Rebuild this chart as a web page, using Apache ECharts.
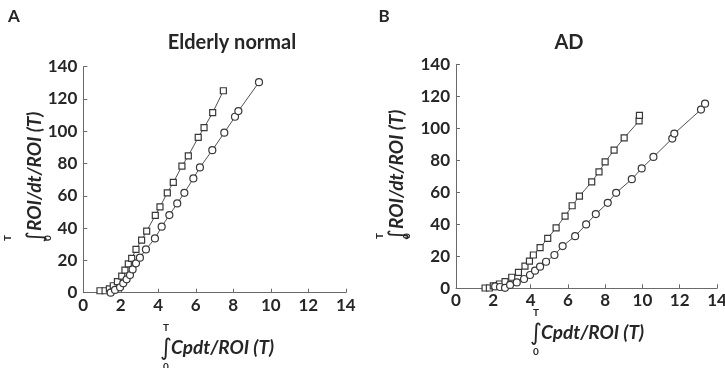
<!DOCTYPE html>
<html><head><meta charset="utf-8">
<script src="https://cdn.jsdelivr.net/npm/echarts@6/dist/echarts.min.js"></script>
<style>html,body{margin:0;padding:0;background:#fff}#c{width:725px;height:368px}</style>
</head><body><div id="c"></div>
<script>
// ---- data ----
const panelLabels = ['A', 'B'];
const panelTitles = ['Elderly normal', 'AD'];
const xTickMax = 14, xTickStep = 2;
const yTickMax = 140, yTickStep = 20;

// Panel A (Elderly normal)
const aSquareX = [0.89,1.16,1.39,1.6,1.82,2.05,2.22,2.4,2.58,2.81,3.11,3.38,3.84,4.09,4.48,4.8,5.26,5.6,6.13,6.44,6.9,7.47];
const aSquareY = [1.2,1.2,2.4,4.3,6.8,10.3,14,17.8,21.3,26.8,32.6,38.2,47.9,53.2,61.9,68.3,78.4,84.8,96.2,102.2,111.5,125.1];
const aCircleX = [1.46,1.69,1.96,2.13,2.31,2.49,2.63,2.81,3.02,3.34,3.82,4.18,4.59,5.01,5.39,5.87,6.22,6.88,7.52,8.09,8.27,9.37];
const aCircleY = [0,1.7,3.3,5.8,8.3,10.9,14.4,18.2,21.7,26.8,33.6,40.9,48.1,55.3,61.9,70.8,77.6,88.3,99.1,109,112.5,130.4];

// Panel B (AD)
const bSquareX = [1.56,1.79,2.0,2.33,2.63,2.99,3.35,3.7,3.94,4.15,4.51,4.92,5.37,5.85,6.23,6.62,7.28,7.67,8.0,8.48,9.02,9.82,9.84];
const bSquareY = [0.2,0.2,1.5,2.7,4.2,6.9,10,13.9,17,20.8,25.4,31.2,37.8,45.1,51.6,57.6,66.5,72.8,79,86.3,94,104.6,108.1];
const bCircleX = [2.1,2.36,2.63,2.9,3.26,3.65,3.97,4.24,4.51,4.83,5.28,5.72,6.39,6.98,7.5,8.14,8.59,9.43,9.96,10.59,11.6,11.71,13.14,13.36];
const bCircleY = [1.2,0.8,0.3,2.1,3.7,5.8,8.3,11,13.5,16.6,20.8,26.4,32.6,39.9,46.4,53.4,59.7,68.2,74.9,82.1,93.6,96.7,111.7,115.4];

const yAxisName = 'ROI/dt/ROI (T)';
const xAxisName = 'Cpdt/ROI (T)';

// ---- chart ----
const pair = (xs, ys) => xs.map((x, i) => [x, ys[i]]);
const FONT = 'Lato, "Open Sans", sans-serif';
const TXT = '#262626';
const AXC = '#6a6a6a';
const MK = '#383838';

const grids = [
  {left: 83.3, top: 66.7, width: 262.5, height: 226},
  {left: 456, top: 64.3, width: 261, height: 224}
];

function xAxis(gi) {
  return {
    type: 'value', gridIndex: gi, min: 0, max: xTickMax, interval: xTickStep,
    splitLine: {show: false},
    axisLine: {show: true, lineStyle: {color: AXC, width: 1}},
    axisTick: {show: true, inside: true, length: 4, lineStyle: {color: AXC}},
    axisLabel: {fontFamily: FONT, fontWeight: 'bold', fontSize: 17, color: TXT, margin: 4}
  };
}
function yAxis(gi) {
  return {
    type: 'value', gridIndex: gi, min: 0, max: yTickMax, interval: yTickStep,
    splitLine: {show: false},
    axisLine: {show: true, lineStyle: {color: AXC, width: 1}},
    axisTick: {show: true, inside: true, length: 4, lineStyle: {color: AXC}},
    axisLabel: {fontFamily: FONT, fontWeight: 'bold', fontSize: 17, color: TXT, margin: 6}
  };
}
function series(gi, xs, ys, sym, size) {
  return {
    type: 'line', xAxisIndex: gi, yAxisIndex: gi, data: pair(xs, ys),
    symbol: sym, symbolSize: size, showSymbol: true,
    lineStyle: {color: '#505050', width: 1},
    itemStyle: {color: '#fff', borderColor: MK, borderWidth: 1.2},
    animation: false, z: 3
  };
}

// rotated y-axis name as a group (90deg CCW): local +x = up the screen, local +y = right
function yName(gx, gy, tOff, zOff) {
  return {
    type: 'group', x: gx, y: gy, rotation: Math.PI / 2,
    children: [
      {type: 'text', x: 5, y: 0,
       style: {text: yAxisName, font: 'italic bold 19px ' + FONT, fill: TXT, align: 'left', verticalAlign: 'middle'}},
      {type: 'text', x: -1, y: 1,
       style: {text: '\u222B', font: '22px "DejaVu Sans"', fill: TXT, align: 'center', verticalAlign: 'middle'}},
      {type: 'text', x: -2, y: tOff,
       style: {text: 'T', font: 'bold 10px ' + FONT, fill: TXT, align: 'center', verticalAlign: 'middle'}},
      {type: 'text', x: -2, y: zOff,
       style: {text: '0', font: 'bold 10px ' + FONT, fill: TXT, align: 'center', verticalAlign: 'middle'}}
    ]
  };
}
function xName(gx, gy) {
  return {
    type: 'group', x: gx, y: gy,
    children: [
      {type: 'text', x: 0, y: 1,
       style: {text: '\u222B', font: '23px "DejaVu Sans"', fill: TXT, align: 'center', verticalAlign: 'middle'}},
      {type: 'text', x: 5, y: 0,
       style: {text: xAxisName, font: 'italic bold 19px ' + FONT, fill: TXT, align: 'left', verticalAlign: 'middle'}},
      {type: 'text', x: 0, y: -20,
       style: {text: 'T', font: 'bold 10px ' + FONT, fill: TXT, align: 'center', verticalAlign: 'middle'}},
      {type: 'text', x: 0, y: 19,
       style: {text: '0', font: 'bold 10px ' + FONT, fill: TXT, align: 'center', verticalAlign: 'middle'}}
    ]
  };
}

const graphic = [
  {type: 'text', x: 14, y: 17, style: {text: panelLabels[0], font: 'bold 17px ' + FONT, fill: TXT, align: 'center', verticalAlign: 'middle'}},
  {type: 'text', x: 384, y: 17, style: {text: panelLabels[1], font: 'bold 17px ' + FONT, fill: TXT, align: 'center', verticalAlign: 'middle'}},
  {type: 'text', x: 232, y: 43, style: {text: panelTitles[0], font: 'bold 20px ' + FONT, fill: TXT, align: 'center', verticalAlign: 'middle'}},
  {type: 'text', x: 569, y: 43, style: {text: panelTitles[1], font: 'bold 20px ' + FONT, fill: TXT, align: 'center', verticalAlign: 'middle'}},
  yName(35, 236, -27, 13),
  yName(397, 234, -17, 10),
  xName(166, 348),
  xName(536, 333)
];

const chart = echarts.init(document.getElementById('c'), null, {renderer: 'canvas'});
chart.setOption({
  backgroundColor: '#fff',
  animation: false,
  grid: grids.map(g => Object.assign({containLabel: false, outerBoundsMode: 'none'}, g)),
  xAxis: [xAxis(0), xAxis(1)],
  yAxis: [yAxis(0), yAxis(1)],
  series: [
    series(0, aSquareX, aSquareY, 'rect', 6),
    series(0, aCircleX, aCircleY, 'circle', 7),
    series(1, bSquareX, bSquareY, 'rect', 6),
    series(1, bCircleX, bCircleY, 'circle', 7)
  ],
  graphic: graphic
});
</script>
</body></html>
